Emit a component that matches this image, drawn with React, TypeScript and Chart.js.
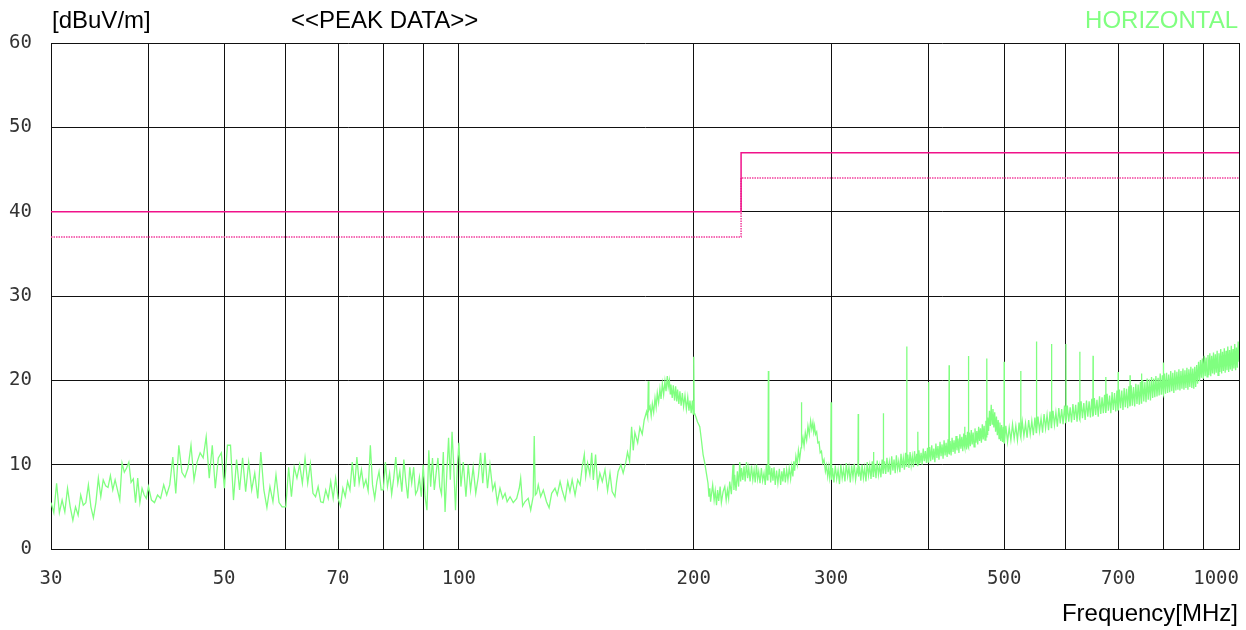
import { useEffect, useRef } from "react";
import { Chart, registerables } from "chart.js";

Chart.register(...registerables);

// ---- axes ----
const xGridTicks = [30, 40, 50, 60, 70, 80, 90, 100, 200, 300, 400, 500, 600, 700, 800, 900, 1000];
const xLabelTicks = [30, 50, 70, 100, 200, 300, 500, 700, 1000];
const yTicks = [0, 10, 20, 30, 40, 50, 60];

// ---- limit lines ----
const limitFreqs = [30, 230, 230, 1000];
const limitLevels = [40, 40, 47, 47];
const marginLevels = [37, 37, 44, 44];

// ---- peak trace [MHz, dBuV/m] ----
const trace30to60: [number, number][] = [
  [30, 5.5], [30.25, 4.3], [30.5, 7.8], [30.75, 4.3], [31, 5.8], [31.25, 4.4], [31.5, 7.2], [31.75, 5.0],
  [32, 3.4], [32.25, 5.0], [32.5, 4.0], [32.75, 6.4], [33, 5.2], [33.25, 5.5], [33.5, 7.6], [33.75, 5.0],
  [34, 3.7], [34.25, 5.5], [34.5, 8.4], [34.75, 6.2], [35, 8.2], [35.25, 7.5], [35.5, 7.3], [35.75, 8.7],
  [36, 7.0], [36.25, 8.2], [36.5, 7.0], [36.75, 5.8], [37, 10.2], [37.25, 9.1], [37.5, 9.6], [37.75, 10.3],
  [38, 7.9], [38.25, 8.3], [38.5, 5.5], [38.75, 8.4], [39, 5.5], [39.25, 7.2], [39.5, 6.4], [39.75, 6.0],
  [40.0, 7.4], [40.36, 5.8], [40.72, 5.5], [41.09, 6.4], [41.46, 6.0], [41.84, 7.6], [42.21, 6.4], [42.59, 7.6],
  [42.98, 10.9], [43.36, 6.6], [43.75, 12.3], [44.15, 9.1], [44.55, 8.5], [44.95, 9.6], [45.35, 12.3], [45.76, 8.2],
  [46.17, 10.3], [46.59, 11.4], [47.01, 10.8], [47.43, 13.3], [47.86, 8.4], [48.29, 12.3], [48.72, 7.2], [49.16, 10.8],
  [49.6, 11.4], [50.05, 7.2], [50.5, 12.3], [50.96, 12.3], [51.41, 5.8], [51.88, 10.6], [52.34, 7.0], [52.81, 10.8],
  [53.29, 6.8], [53.77, 10.3], [54.25, 7.0], [54.74, 9.0], [55.23, 6.0], [55.73, 11.5], [56.23, 7.0], [56.74, 4.9],
  [57.25, 7.4], [57.76, 5.6], [58.28, 8.8], [58.81, 5.5], [59.34, 5.0],
];

const trace60to100: [number, number][] = [
  [60, 5.0], [60.5, 9.7], [61, 6.2], [61.5, 9.7], [62, 8.4], [62.5, 10.0], [63, 7.8], [63.5, 10.8],
  [64, 7.8], [64.5, 10.1], [65, 6.6], [65.5, 6.2], [66, 7.4], [66.5, 5.6], [67, 5.5], [67.5, 7.0],
  [68, 6.0], [68.5, 8.0], [69, 6.0], [69.5, 8.4], [70, 6.0], [70.5, 5.1], [71, 7.2], [71.5, 6.2],
  [72, 8.0], [72.5, 7.0], [73, 10.3], [73.5, 7.4], [74, 10.9], [74.5, 7.8], [75, 9.4], [75.5, 7.4],
  [76, 8.2], [76.5, 6.9], [77, 12.3], [77.5, 7.6], [78, 6.0], [78.5, 8.0], [79, 9.2], [79.5, 7.0],
  [80, 7.0], [80.5, 10.3], [81, 7.4], [81.5, 9.0], [82, 6.5], [82.5, 8.4], [83, 10.9], [83.5, 7.8],
  [84, 9.2], [84.5, 6.8], [85, 10.6], [85.5, 8.0], [86, 6.0], [86.5, 9.7], [87, 7.8], [87.5, 9.7],
  [88, 6.5], [88.5, 7.0], [89, 8.5], [89.5, 6.2], [90, 10.0], [90.5, 6.2], [91, 4.6], [91.5, 11.7],
  [92, 7.4], [92.5, 10.8], [93, 7.0], [93.5, 9.0], [94, 10.8], [94.5, 7.4], [95, 6.5], [95.5, 11.5],
  [96, 4.4], [96.5, 9.0], [97, 13.2], [97.5, 8.2], [98, 13.9], [98.5, 9.7], [99, 4.6], [99.5, 9.5],
  [100, 12.6],
];

const trace100to200: [number, number][] = [
  [100.6, 7.4], [101.3, 10.3], [102.1, 6.2], [102.8, 10.0], [103.5, 7.0], [104.3, 9.7], [105.1, 6.6], [105.9, 8.6],
  [106.6, 11.4], [107.3, 7.8], [108.0, 11.4], [108.8, 7.2], [109.6, 10.0], [110.5, 7.0], [111.2, 7.8], [112.0, 5.5],
  [112.9, 7.2], [113.8, 6.0], [114.6, 6.6], [115.3, 5.6], [116.3, 6.2], [117.4, 5.5], [118.6, 6.0], [119.5, 7.2],
  [120.0, 8.4], [120.7, 5.1], [121.5, 5.6], [122.7, 6.0], [123.6, 4.6], [124.5, 6.2], [124.9, 13.4], [125.3, 6.4],
  [125.8, 6.6], [126.4, 7.6], [127.3, 6.2], [128.3, 7.0], [129.5, 5.6], [130.5, 4.9], [131.5, 6.6], [132.8, 7.2],
  [133.7, 6.4], [134.8, 8.0], [135.6, 7.0], [136.8, 5.8], [137.9, 8.0], [138.8, 6.8], [139.7, 8.2], [140.9, 6.4],
  [142.0, 8.2], [143.0, 7.6], [143.9, 9.7], [144.8, 11.2], [145.4, 8.6], [146.2, 10.2], [147.2, 8.8], [148.0, 11.4],
  [148.7, 8.2], [149.7, 11.2], [150.6, 7.4], [151.6, 9.0], [152.7, 8.0], [153.9, 9.4], [155.1, 6.9], [156.2, 9.0],
  [157.2, 6.8], [158.5, 6.2], [159.3, 8.0], [160.0, 9.2], [161.3, 10.0], [162.4, 9.0], [163.6, 10.2], [164.5, 11.5],
  [165.5, 10.4], [166.5, 14.5], [167.3, 11.7], [168.1, 13.8], [169.5, 12.6], [170.6, 14.4], [171.8, 13.6], [172.8, 15.3],
  [174.0, 16.3], [174.6, 15.6], [174.9, 19.9], [175.2, 16.5], [175.8, 16.9], [176.4, 15.8], [177.0, 17.2], [177.7, 16.2],
  [178.4, 17.9], [179.0, 16.8], [179.6, 18.5], [180.3, 17.4], [181.0, 19.0], [181.6, 17.8], [182.3, 19.6], [183.0, 18.3],
  [183.7, 19.9], [184.3, 18.7], [185.0, 20.5], [185.5, 19.2], [186.1, 20.0], [186.6, 18.4], [187.0, 19.5], [187.7, 17.9],
  [188.3, 19.4], [189.0, 17.6], [189.6, 19.3], [190.2, 17.5], [190.7, 18.9], [191.4, 17.2], [192.0, 18.7], [192.7, 17.0],
  [193.4, 18.5], [194.1, 16.9], [194.9, 18.2], [195.7, 16.6], [196.5, 18.0], [197.2, 16.4], [197.8, 17.6], [198.5, 16.1],
  [199.2, 17.6], [199.7, 16.0], [200.0, 22.8], [200.3, 16.2],
];

const trace200to300: [number, number][] = [
  [201.4, 15.6], [202.2, 15.1], [203.6, 14.5], [204.6, 12.9], [205.6, 11.2], [206.6, 10.2], [207.6, 9.0], [208.6, 7.8],
  [209.2, 6.2], [209.7, 7.2], [210.2, 5.6], [210.7, 6.4], [211.5, 7.6], [212.4, 5.8], [213.1, 6.9], [213.9, 5.2],
  [214.6, 7.0], [215.3, 5.7], [216.2, 7.4], [217.0, 5.5], [218.1, 6.8], [219.2, 7.4], [220.1, 5.8], [220.9, 7.0],
  [221.7, 6.0], [222.4, 8.0], [223.5, 6.5], [224.6, 10.0], [225.2, 7.0], [225.7, 8.8], [226.6, 6.9], [227.5, 9.2],
  [228.3, 7.4], [229.1, 10.3], [229.7, 8.0], [230.3, 9.6], [231.2, 8.2], [232.0, 9.8], [232.8, 8.0], [233.7, 10.3],
  [234.5, 8.4], [235.3, 9.6], [236.2, 8.0], [237.2, 9.9], [238.1, 8.2], [239.0, 9.4], [239.8, 7.9], [240.7, 10.0],
  [241.5, 8.3], [242.3, 9.2], [243.2, 7.8], [244.2, 9.6], [245.1, 8.1], [246.1, 9.0], [247.0, 7.6], [247.8, 10.0],
  [248.5, 8.2], [249.0, 9.0], [249.3, 21.1], [249.6, 8.8], [250.3, 9.8], [251.0, 7.9], [251.8, 9.6], [252.7, 8.1],
  [253.5, 9.7], [254.4, 7.6], [255.4, 9.3], [256.4, 7.8], [257.5, 9.5], [258.5, 7.6], [259.4, 9.2], [260.2, 8.0],
  [261.1, 9.6], [262.1, 7.9], [263.1, 9.4], [264.1, 8.2], [265.1, 9.6], [266.2, 8.3], [267.1, 9.8], [268.0, 8.6],
  [268.7, 10.4], [269.4, 9.3], [270.4, 11.0], [271.5, 10.0], [272.4, 11.7], [273.4, 10.6], [274.5, 12.0], [274.8, 17.4],
  [275.1, 12.2], [276.1, 13.2], [277.0, 12.2], [278.0, 13.8], [279.1, 12.9], [280.2, 14.6], [281.3, 13.6], [282.4, 15.2],
  [283.4, 14.2], [284.3, 15.0], [285.0, 13.9], [285.7, 14.6], [286.5, 13.6], [287.5, 13.9], [288.5, 12.6], [289.5, 12.7],
  [290.5, 11.4], [291.6, 11.6], [292.7, 10.2], [293.8, 10.6], [295.0, 9.2], [296.0, 9.9], [297.0, 8.6], [298.0, 9.7],
  [298.8, 8.4], [299.6, 9.3], [300.0, 17.4], [300.4, 8.2],
];

const trace300to400: [number, number][] = [
  [301.25, 9.6], [302.5, 7.9], [303.75, 9.9], [305, 8.3], [306.25, 9.4], [307.5, 7.7], [308.75, 10.0], [310, 8.4],
  [311.25, 9.5], [312.5, 8.0], [313.75, 10.2], [315, 8.6], [316.25, 9.7], [317.5, 7.9], [318.75, 9.9], [320, 8.5],
  [321.25, 10.1], [322.5, 8.2], [323.75, 9.4], [324.7, 9.0], [325, 16.0], [325.3, 8.6], [326.25, 9.8], [327.5, 8.1],
  [328.75, 10.0], [330, 8.4], [331.25, 9.6], [332.5, 8.0], [333.75, 10.3], [335, 8.7], [336.25, 9.9], [337.5, 8.3],
  [338.75, 10.4], [339.7, 8.6], [340, 11.5], [340.3, 8.9], [341.25, 10.1], [342.5, 8.4], [343.75, 10.5], [345, 8.8],
  [346.25, 9.9], [347.5, 8.5], [348.75, 10.6], [349.7, 9.0], [350, 16.1], [350.3, 9.2], [351.25, 10.4], [352.5, 8.9],
  [353.75, 10.8], [355, 9.1], [356.25, 10.3], [357.5, 8.8], [358.75, 11.0], [360, 9.3], [361.25, 10.6], [362.5, 9.0],
  [363.75, 11.1], [365, 9.5], [366.25, 10.4], [367.5, 9.1], [368.75, 11.3], [370, 9.6], [371.25, 10.8], [372.5, 9.4],
  [373.75, 11.4], [374.7, 9.8], [375, 24.0], [375.3, 10.0], [376.25, 11.2], [377.5, 9.6], [378.75, 11.5], [380, 9.9],
  [381.25, 11.0], [382.5, 9.7], [383.75, 11.6], [385, 10.1], [386.25, 11.3], [387.2, 9.9], [387.5, 13.9], [387.8, 10.1],
  [388.75, 11.7], [390, 10.2], [391.25, 11.4], [392.5, 10.0], [393.75, 11.9], [395, 10.4], [396.25, 11.6], [397.5, 10.2],
  [398.75, 12.0], [399.7, 10.3], [400, 19.8], [400.3, 10.5],
];

const trace400to500: [number, number][] = [
  [401.25, 12.1], [402.5, 10.4], [403.75, 12.3], [405, 10.6], [406.25, 11.9], [407.5, 10.3], [408.75, 12.5], [410, 10.8],
  [411.25, 12.2], [412.5, 10.6], [413.75, 12.7], [415, 11.0], [416.25, 12.4], [417.5, 10.7], [418.75, 12.9], [420, 11.1],
  [421.25, 12.6], [422.5, 10.9], [423.75, 13.0], [424.7, 11.3], [425, 21.8], [425.3, 11.2], [426.25, 12.8], [427.5, 11.1],
  [428.75, 13.2], [430, 11.5], [431.25, 12.9], [432.5, 11.3], [433.75, 13.4], [435, 11.7], [436.25, 13.1], [437.5, 11.4],
  [438.75, 13.6], [440, 11.9], [441.25, 13.3], [442.5, 11.6], [443.75, 13.7], [444.7, 12.2], [445, 14.5], [445.3, 12.0],
  [446.25, 13.5], [447.5, 11.8], [448.75, 13.9], [449.7, 12.1], [450, 22.9], [450.3, 12.0], [451.25, 13.8], [452.5, 12.2],
  [453.75, 14.1], [455, 12.4], [456.25, 13.8], [457.5, 12.1], [458.75, 14.3], [460, 12.6], [461.25, 14.0], [462.5, 12.4],
  [463.75, 14.5], [465, 12.8], [466.25, 14.3], [467.5, 12.6], [468.75, 14.8], [470, 13.0], [471.25, 14.6], [472.5, 12.9],
  [473.75, 15.2], [474.7, 13.3], [475, 22.6], [475.3, 13.6], [476.25, 15.6], [477.5, 14.0], [478.75, 16.4], [480, 14.6],
  [481.25, 17.1], [482.5, 14.8], [483.75, 16.6], [485, 14.4], [486.25, 16.2], [487.5, 13.9], [488.75, 15.7], [490, 13.5],
  [491.25, 15.3], [492.5, 13.1], [493.75, 15.0], [495, 12.8], [496.25, 14.7], [497.5, 12.7], [498.75, 14.5], [499.7, 12.6],
  [500, 22.2], [500.3, 12.5],
];

const trace500to750: [number, number][] = [
  [502.5, 14.6], [505, 12.7], [507.5, 14.4], [510, 12.9], [512.5, 14.8], [515, 13.1], [517.5, 14.6], [520, 12.9],
  [522.5, 15.0], [524.6, 13.4], [525, 21.1], [525.4, 13.2], [527.5, 15.1], [530, 13.4], [532.5, 14.9], [535, 13.2],
  [537.5, 15.3], [540, 13.6], [542.5, 15.2], [545, 13.5], [547.5, 15.6], [549.6, 13.8], [550, 24.6], [550.4, 13.9],
  [552.5, 15.7], [555, 14.0], [557.5, 15.5], [560, 13.8], [562.5, 16.0], [565, 14.3], [567.5, 15.9], [570, 14.1],
  [572.5, 16.3], [574.6, 14.4], [575, 24.3], [575.4, 14.6], [577.5, 16.4], [580, 14.7], [582.5, 16.2], [585, 14.5],
  [587.5, 16.7], [590, 14.9], [592.5, 16.6], [595, 14.8], [597.5, 17.0], [599.6, 15.0], [600, 24.3], [600.4, 15.2],
  [602.5, 17.0], [605, 15.1], [607.5, 16.8], [610, 15.0], [612.5, 17.2], [615, 15.3], [617.5, 17.1], [620, 15.1],
  [622.5, 17.4], [624.6, 15.4], [625, 23.4], [625.4, 15.3], [627.5, 17.5], [630, 15.5], [632.5, 17.3], [635, 15.3],
  [637.5, 17.6], [640, 15.7], [642.5, 17.5], [645, 15.6], [647.5, 17.8], [649.6, 15.7], [650, 22.9], [650.4, 15.8],
  [652.5, 17.9], [655, 15.9], [657.5, 17.7], [660, 15.7], [662.5, 18.1], [665, 16.0], [667.5, 18.0], [670, 16.1],
  [672.5, 18.3], [674.6, 16.2], [675, 20.4], [675.4, 16.3], [677.5, 18.4], [680, 16.4], [682.5, 18.2], [685, 16.1],
  [687.5, 18.6], [690, 16.5], [692.5, 18.5], [695, 16.3], [697.5, 18.8], [699.6, 16.4], [700, 21.0], [700.4, 16.5],
  [702.5, 18.9], [705, 16.7], [707.5, 18.8], [710, 16.5], [712.5, 19.1], [715, 16.8], [717.5, 19.0], [720, 16.7],
  [722.5, 19.3], [724.6, 16.9], [725, 20.6], [725.4, 17.0], [727.5, 19.4], [730, 17.0], [732.5, 19.2], [735, 16.9],
  [737.5, 19.6], [740, 17.2], [742.5, 19.5], [745, 17.1], [747.5, 19.8], [749.6, 17.3], [750, 20.8], [750.4, 17.4],
];

const trace750to1000: [number, number][] = [
  [752.5, 20.0], [755, 17.5], [757.5, 19.8], [760, 17.4], [762.5, 20.2], [765, 17.7], [767.5, 20.1], [770, 17.6],
  [772.5, 20.4], [775, 17.9], [777.5, 20.2], [780, 18.0], [782.5, 20.5], [785, 18.1], [787.5, 20.3], [790, 18.2],
  [792.5, 20.8], [795, 18.3], [797.5, 20.6], [799.6, 18.4], [800, 22.1], [800.4, 18.3], [802.5, 20.8], [805, 18.4],
  [807.5, 20.9], [810, 18.5], [812.5, 20.7], [815, 18.6], [817.5, 21.1], [820, 18.7], [822.5, 20.9], [825, 18.5],
  [827.5, 21.2], [830, 18.8], [832.5, 21.0], [835, 18.9], [837.5, 21.3], [840, 18.8], [842.5, 21.1], [845, 19.0],
  [847.5, 21.4], [850, 18.9], [852.5, 21.2], [855, 19.1], [857.5, 21.5], [860, 18.9], [862.5, 21.3], [865, 19.2],
  [867.5, 21.6], [870, 19.1], [872.5, 21.4], [875, 19.0], [877.5, 21.6], [880, 19.2], [882.5, 21.8], [885, 19.6],
  [887.5, 22.2], [890, 19.9], [892.5, 22.4], [895, 20.3], [897.5, 22.6], [900, 20.2], [902.5, 22.9], [905, 20.5],
  [907.5, 22.7], [910, 20.4], [912.5, 23.0], [915, 20.6], [917.5, 23.2], [920, 20.5], [922.5, 22.9], [925, 20.8],
  [927.5, 23.3], [930, 20.7], [932.5, 23.1], [935, 20.9], [937.5, 23.5], [940, 20.6], [942.5, 23.2], [945, 21.0],
  [947.5, 23.7], [950, 20.8], [952.5, 23.4], [955, 21.1], [957.5, 23.8], [960, 20.9], [962.5, 23.5], [965, 21.2],
  [967.5, 24.0], [970, 21.0], [972.5, 23.6], [975, 21.3], [977.5, 24.1], [980, 21.1], [982.5, 23.7], [985, 21.4],
  [987.5, 24.3], [990, 21.2], [992.5, 23.9], [995, 21.5], [997.5, 24.6], [1000, 22.2],
];

const peakTrace = [
  ...trace30to60, ...trace60to100, ...trace100to200, ...trace200to300,
  ...trace300to400, ...trace400to500, ...trace500to750, ...trace750to1000,
];

const GREEN = "#80FF80";
const MAGENTA = "#F0128A";
const MAGENTA_DOT = "#F23C9C";
const GRID = "#111111";
const TICK_FONT = { family: "'DejaVu Sans Mono', monospace", size: 19 };

const textPlugin = {
  id: "emcTexts",
  afterDraw(chart: any) {
    const ctx = chart.ctx as CanvasRenderingContext2D;
    ctx.save();
    ctx.font = '24px "Liberation Sans", Arial, sans-serif';
    ctx.textBaseline = "alphabetic";
    ctx.fillStyle = "#000";
    ctx.textAlign = "left";
    ctx.fillText("[dBuV/m]", 52, 28);
    ctx.fillText("<<PEAK DATA>>", 291, 28);
    ctx.textAlign = "right";
    ctx.fillStyle = GREEN;
    ctx.fillText("HORIZONTAL", 1238, 28);
    ctx.fillStyle = "#000";
    ctx.fillText("Frequency[MHz]", 1238, 621);
    ctx.restore();
  },
};

export default function App() {
  const ref = useRef<HTMLCanvasElement | null>(null);

  useEffect(() => {
    if (!ref.current) return;
    const chart = new Chart(ref.current, {
      type: "line",
      data: {
        datasets: [
          {
            label: "limit",
            data: limitFreqs.map((f, i) => ({ x: f, y: limitLevels[i] })),
            borderColor: MAGENTA,
            borderWidth: 1.5,
            pointRadius: 0,
          },
          {
            label: "margin",
            data: limitFreqs.map((f, i) => ({ x: f, y: marginLevels[i] })),
            borderColor: MAGENTA_DOT,
            borderWidth: 1.5,
            borderDash: [1.5, 1],
            pointRadius: 0,
          },
          {
            label: "peak",
            data: peakTrace.map(([f, v]) => ({ x: f, y: v })),
            borderColor: GREEN,
            borderWidth: 1.3,
            pointRadius: 0,
            tension: 0,
          },
        ],
      },
      options: {
        animation: false,
        responsive: false,
        events: [],
        layout: { padding: { left: 0, right: 7, top: 43, bottom: 0 } },
        plugins: { legend: { display: false }, tooltip: { enabled: false } },
        scales: {
          x: {
            type: "logarithmic",
            min: 30,
            max: 1000,
            afterBuildTicks: (s: any) => {
              s.ticks = xGridTicks.map((v) => ({ value: v }));
            },
            afterFit: (s: any) => {
              s.height = 81;
              s.paddingLeft = 0;
              s.paddingRight = 0;
            },
            ticks: {
              autoSkip: false,
              maxRotation: 0,
              minRotation: 0,
              padding: 19,
              color: "#333",
              font: TICK_FONT,
              callback: (value: any) => {
                const v = Number(value);
                if (!xLabelTicks.includes(v)) return "";
                return v === 1000 ? "1000    " : String(v);
              },
            },
            grid: { color: GRID, lineWidth: 1, drawTicks: false },
            border: { color: GRID },
          },
          y: {
            type: "linear",
            min: 0,
            max: 60,
            afterBuildTicks: (s: any) => {
              s.ticks = yTicks.map((v) => ({ value: v }));
            },
            afterFit: (s: any) => {
              s.width = 51;
            },
            ticks: {
              padding: 19,
              color: "#333",
              font: TICK_FONT,
              callback: (value: any) => String(value),
            },
            grid: { color: GRID, lineWidth: 1, drawTicks: false },
            border: { color: GRID },
          },
        },
      },
      plugins: [textPlugin],
    } as any);
    return () => chart.destroy();
  }, []);

  return (
    <div style={{ position: "absolute", left: 0, top: 0, width: 1246, height: 630, background: "#fff" }}>
      <canvas ref={ref} width={1246} height={630} style={{ display: "block", width: 1246, height: 630 }} />
    </div>
  );
}
